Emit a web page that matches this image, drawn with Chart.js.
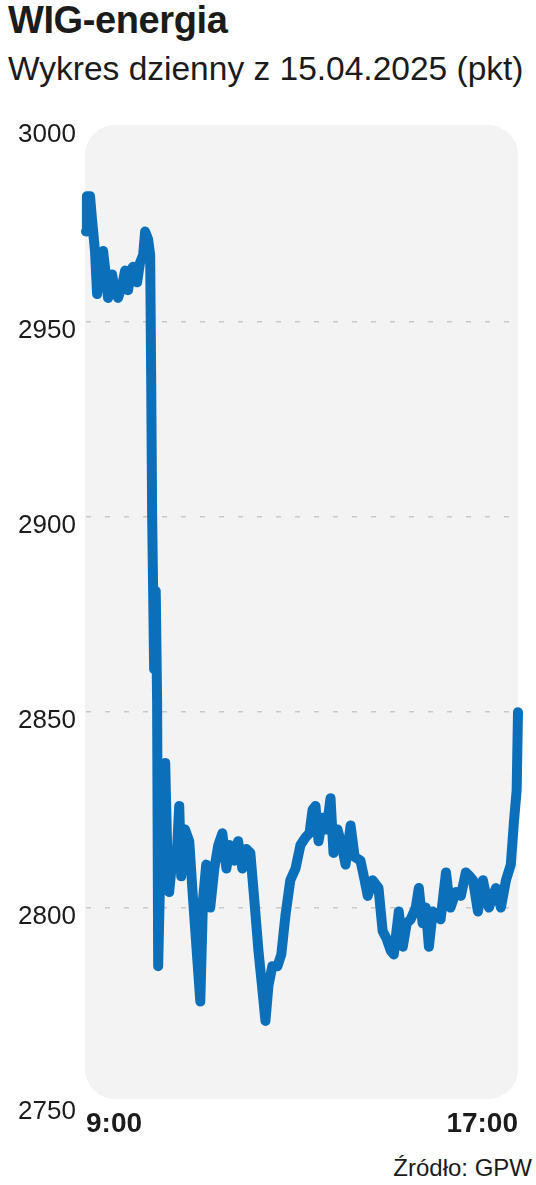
<!DOCTYPE html>
<html>
<head>
<meta charset="utf-8">
<script src="https://cdn.jsdelivr.net/npm/chart.js@4"></script>
<style>
  html, body { margin: 0; padding: 0; background: #fff; }
  body { width: 536px; height: 1185px; position: relative; overflow: hidden;
         font-family: "Liberation Sans", Arial, sans-serif; color: #1b1b1b; }
  #title { position: absolute; left: 8px; top: -1px; font-size: 38px; font-weight: bold; line-height: 42px; letter-spacing: -0.4px; }
  #subtitle { position: absolute; left: 8px; top: 50px; font-size: 33.5px; line-height: 38px; }
  #source { position: absolute; right: 4px; top: 1154px; font-size: 24px; line-height: 28px; }
  #wrap { position: absolute; left: 0; top: 100px; width: 536px; height: 1050px; }
</style>
</head>
<body>
<div id="title">WIG-energia</div>
<div id="subtitle">Wykres dzienny z 15.04.2025 (pkt)</div>
<div id="wrap"><canvas id="c"></canvas></div>
<div id="source">Źródło: GPW</div>
<script>
// minutes after 9:00
const times = [
  0, 1, 4.5, 6.7, 10, 12.3, 15.6, 19, 22, 24.5, 29, 32, 35.6, 40, 43.4, 46.8, 50, 52.3, 56.8, 60,
  63.5, 65.7, 69, 71.3, 72.4, 73.5, 74.6, 75.7, 77.5, 79, 80.2, 83.5, 88, 90.2, 92.4, 95.8, 100, 103.6, 105.8, 110,
  114.7, 119, 123.6, 127, 130, 133.6, 138, 142.6, 147, 151.5, 156, 160, 164.8, 169, 173.7, 178, 182.6, 187, 191.6, 196,
  199.4, 202.7, 207, 212.7, 217, 221.6, 227, 232.8, 238.3, 244, 248.3, 251.7, 255, 258.4, 262.8, 267.3, 271.7, 275, 279.5, 284,
  288.4, 291.8, 294, 298.5, 305, 309.6, 313, 318.5, 325, 329.6, 334, 338.6, 342, 347.5, 352, 356.4, 360.8, 366.4, 369.8, 374,
  377.5, 381, 385.3, 391, 394, 400, 403, 405, 411, 416.5, 422, 426.5, 430, 435.5, 441, 445.5, 447.7, 452, 455.5, 461,
  466.6, 472, 475.5, 478.5, 480
];
const values = [
  2973, 2982, 2982, 2976, 2968, 2957, 2963, 2968, 2962, 2956, 2962, 2958, 2956, 2959, 2963, 2958, 2963, 2964, 2960, 2965,
  2967, 2973, 2971, 2967, 2936, 2900, 2881, 2861, 2881, 2853, 2785, 2820, 2837, 2815, 2804, 2812, 2810, 2826, 2808, 2820,
  2817, 2802, 2787, 2776, 2802, 2811, 2800, 2810, 2816, 2819, 2810, 2816, 2812, 2817, 2810, 2815, 2814, 2802, 2789, 2779,
  2771, 2780, 2785, 2785, 2788, 2798, 2807, 2810, 2816, 2818, 2819, 2825, 2826, 2817, 2823, 2820, 2828, 2814, 2820, 2816,
  2811, 2817, 2821, 2813, 2812, 2807, 2803, 2807, 2805, 2794, 2792, 2789, 2788, 2799, 2790, 2796, 2797, 2800, 2805, 2796,
  2800, 2790, 2799, 2798, 2797, 2809, 2803, 2800, 2804, 2803, 2809, 2808, 2807, 2799, 2807, 2802, 2800, 2803, 2805, 2800,
  2807, 2811, 2822, 2830, 2850
];
const yTicks = [2750, 2800, 2850, 2900, 2950, 3000];
const xTickValues = [0, 480];
const xTickLabels = ["9:00", "17:00"];

const points = times.map((t, i) => ({ x: t, y: values[i] }));

// light grey rounded panel behind the plot
const panelBg = {
  id: "panelBg",
  beforeDraw(chart) {
    const { ctx, chartArea: a } = chart;
    ctx.save();
    ctx.fillStyle = "#f3f3f3";
    ctx.beginPath();
    ctx.roundRect(a.left - 1, a.top - 1, a.right - a.left + 1, a.bottom - a.top - 3, 30);
    ctx.fill();
    ctx.restore();
  }
};

new Chart(document.getElementById("c"), {
  type: "line",
  data: {
    datasets: [{
      data: points,
      borderColor: "#0b6fba",
      borderWidth: 10,
      pointRadius: 0,
      tension: 0,
      borderJoinStyle: "round",
      borderCapStyle: "round",
      clip: false
    }]
  },
  plugins: [panelBg],
  options: {
    responsive: true,
    maintainAspectRatio: false,
    animation: false,
    layout: { padding: { left: 18, right: 18, top: 26, bottom: 0 } },
    plugins: { legend: { display: false }, tooltip: { enabled: false } },
    scales: {
      x: {
        type: "linear",
        min: 0,
        max: 480,
        afterBuildTicks: (s) => { s.ticks = xTickValues.map((v) => ({ value: v })); },
        afterFit: (s) => { s.height = 47; },
        grid: { display: false, drawTicks: false },
        border: { display: false },
        ticks: {
          align: "inner",
          maxRotation: 0,
          padding: 4,
          color: "#1b1b1b",
          font: { family: "Liberation Sans", size: 28, weight: "bold" },
          callback: (v) => xTickLabels[xTickValues.indexOf(v)]
        }
      },
      y: {
        min: 2750,
        max: 3000,
        afterBuildTicks: (s) => { s.ticks = yTicks.map((v) => ({ value: v })); },
        afterFit: (s) => { s.width = 68; },
        grid: {
          drawTicks: false,
          lineWidth: 1.5,
          color: (c) => (c.tick && c.tick.value > 2750 && c.tick.value < 3000) ? "#c9c9c9" : "rgba(0,0,0,0)"
        },
        border: { display: false, dash: [5, 14] },
        ticks: {
          crossAlign: "far",
          labelOffset: 9,
          color: "#1b1b1b",
          font: { family: "Liberation Sans", size: 26 },
          callback: (v) => String(v)
        }
      }
    }
  }
});
</script>
</body>
</html>
